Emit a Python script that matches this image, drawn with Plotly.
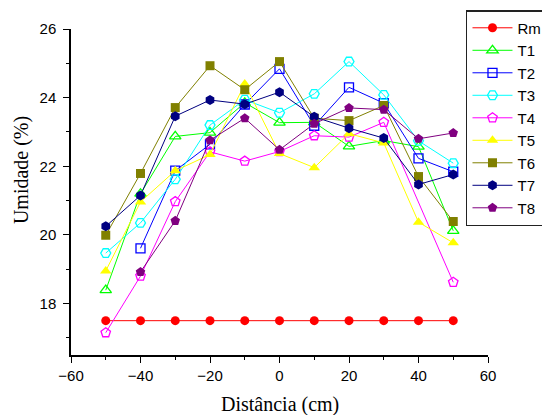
import plotly.graph_objects as go

distance = [-50, -40, -30, -20, -10, 0, 10, 20, 30, 40, 50]

rm = [17.5, 17.5, 17.5, 17.5, 17.5, 17.5, 17.5, 17.5, 17.5, 17.5, 17.5]
t1 = [18.39, 21.2, 22.87, 22.98, 23.85, 23.27, 23.28, 22.58, 22.75, 22.57, 20.12]
t2 = [None, 19.61, 21.87, 22.64, 23.8, 24.84, 23.18, 24.3, 23.84, 22.23, 21.84]
t3 = [19.47, 20.35, 21.62, 23.2, 23.94, 23.56, 24.11, 25.05, 24.08, 22.74, 22.09]
t4 = [17.15, 18.8, 20.97, 22.42, 22.15, 22.43, 22.89, 22.85, 23.28, None, 18.62]
t5 = [18.95, 20.96, 21.87, 22.34, 24.4, 22.37, 21.96, 22.95, 22.68, 20.37, 19.77]
t6 = [19.99, 21.79, 23.71, 24.93, 24.23, 25.05, 23.4, 23.33, 23.77, 21.7, 20.39]
t7 = [20.25, 21.15, 23.46, 23.93, 23.81, 24.16, 23.44, 23.11, 22.82, 21.47, 21.76]
t8 = [None, 18.92, 20.41, 22.76, 23.4, 22.48, 23.24, 23.7, 23.65, 22.8, 22.97]

series_names = ["Rm", "T1", "T2", "T3", "T4", "T5", "T6", "T7", "T8"]
series_values = [rm, t1, t2, t3, t4, t5, t6, t7, t8]
colors = ["#FF0000", "#00FF00", "#0000FF", "#00FFFF", "#FF00FF",
          "#FFFF00", "#808000", "#000080", "#800080"]
symbols = ["circle", "triangle-up-open", "square-open", "hexagon2-open",
           "pentagon-open", "triangle-up", "square", "hexagon", "pentagon"]
sizes = [9, 10, 9, 10, 10, 10, 9, 10, 10]

fig = go.Figure()
for name, vals, col, sym, sz in zip(series_names, series_values, colors, symbols, sizes):
    is_open = sym.endswith("-open")
    fig.add_trace(go.Scatter(
        x=distance, y=vals, name=name, mode="lines+markers",
        connectgaps=True,
        line=dict(color=col, width=1),
        marker=dict(symbol=sym, size=sz, color=col,
                    line=dict(color=col, width=1.3 if is_open else 0)),
    ))

axis_common = dict(
    showline=True, linecolor="black", linewidth=1.5, mirror=False,
    showgrid=False, zeroline=False, automargin=False,
    ticks="outside", ticklen=6, tickwidth=1.2, tickcolor="black",
    tickfont=dict(family="Liberation Sans, Arial", size=15, color="black"),
)

fig.update_xaxes(range=[-60, 60], dtick=20, tick0=-60,
                 minor=dict(ticks="outside", ticklen=3, dtick=10, tickcolor="black", tickwidth=1),
                 **axis_common)
fig.update_yaxes(range=[16.5, 26], dtick=2, tick0=18,
                 minor=dict(ticks="outside", ticklen=3, dtick=1, tickcolor="black", tickwidth=1),
                 ticklabelstandoff=4,
                 **axis_common)

fig.update_layout(
    width=542, height=407,
    margin=dict(l=63, r=62, t=21, b=60, autoexpand=False),
    paper_bgcolor="white", plot_bgcolor="white",
    showlegend=True,
    legend=dict(
        xref="container", yref="container",
        x=0.845, y=0.995, xanchor="left", yanchor="top",
        maxheight=0.9,
        bgcolor="white", bordercolor="#222222", borderwidth=1.5,
        font=dict(family="Liberation Sans, Arial", size=15, color="black"),
        tracegroupgap=0, itemwidth=40,
    ),
    annotations=[
        dict(text="Distância (cm)", xref="paper", yref="paper",
             x=0.5, y=-0.153, xanchor="center", yanchor="middle",
             showarrow=False,
             font=dict(family="Liberation Serif, Times New Roman", size=20, color="black")),
        dict(text="Umidade (%)", xref="paper", yref="paper",
             x=-0.12, y=0.567, xanchor="center", yanchor="middle",
             textangle=-90, showarrow=False,
             font=dict(family="Liberation Serif, Times New Roman", size=20, color="black")),
    ],
)

fig.write_html("out.html")
